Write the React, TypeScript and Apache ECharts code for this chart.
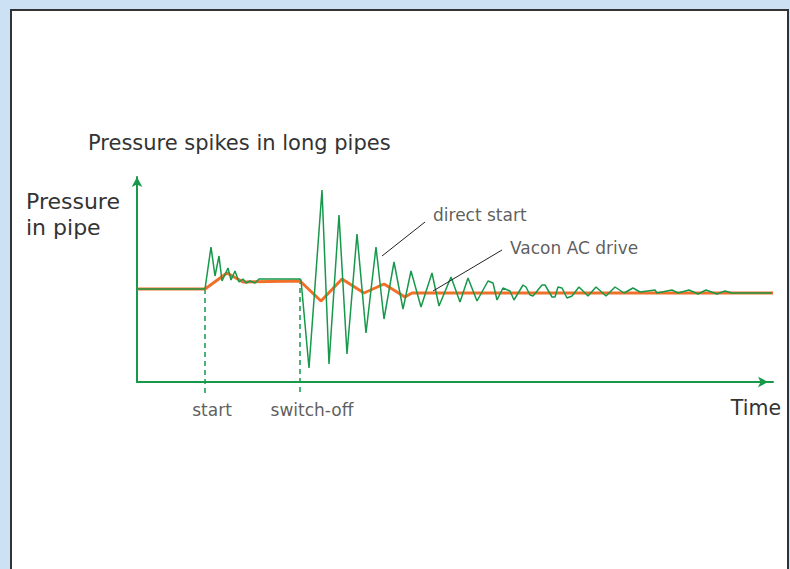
import React, { useEffect, useRef } from "react";
import * as echarts from "echarts";

// Time (x) and pressure (y) readings of the two curves
const directStart: [number, number][] = [
  [0, 93], [68, 93], [74, 135], [78, 106], [82, 126], [85, 101], [91, 114], [94, 102],
  [98, 111], [102, 100], [106, 103], [109, 99], [113, 101], [118, 99], [122, 103],
  [163, 103], [164, 102], [172, 14], [185, 192], [192, 18], [202, 167], [210, 28],
  [220, 148], [229, 49], [239, 135], [247, 63], [257, 120], [266, 73], [274, 111],
  [284, 75], [295, 109], [302, 76], [314, 105], [323, 80], [331, 104], [340, 81],
  [351, 101], [356, 99], [360, 82], [366, 94], [373, 91], [377, 82], [386, 97],
  [389, 95], [393, 87], [396, 86], [405, 97], [408, 97], [415, 85], [418, 85],
  [421, 95], [425, 94], [430, 84], [435, 86], [442, 95], [451, 86], [459, 95],
  [469, 86], [478, 95], [487, 89], [496, 94], [503, 90], [518, 92], [520, 89],
  [535, 92], [541, 89], [552, 92], [561, 88], [569, 92], [580, 88], [588, 91],
  [595, 89], [635, 89],
];
const vaconDrive: [number, number][] = [
  [0, 93], [68, 93], [90, 109], [106, 100], [163, 101], [184, 81], [205, 103],
  [227, 89], [247, 98], [268, 85], [275, 89], [636, 89],
];

const eventTimes = [68, 163];
const eventTops = [93, 103];
const eventLabels = ["start", "switch-off"];
const eventLabelX = [75, 175];

const annotationLabels = ["direct start", "Vacon AC drive"];
const annotationText: [number, number][] = [[296, 167], [373, 134]];
const annotationLines: [number, number][][] = [
  [[245, 126], [288, 160]],
  [[296, 91], [365, 132]],
];

const titleText = "Pressure spikes in long pipes";
const yName = "Pressure\nin pipe";
const xName = "Time";

const GREEN = "#17984a";
const ORANGE = "#f0702a";
const TEXT = "#333333";
const FONT = "DejaVu Sans";

export default function App() {
  const ref = useRef<HTMLDivElement>(null);
  useEffect(() => {
    if (!ref.current) return;
    const chart = echarts.init(ref.current, null, { renderer: "svg" });
    const series: any[] = [];
    series.push({
      type: "line",
      data: vaconDrive,
      symbol: "none",
      lineStyle: { color: ORANGE, width: 3 },
      z: 3,
      silent: true,
    });
    series.push({
      type: "line",
      data: directStart,
      symbol: "none",
      lineStyle: { color: GREEN, width: 1.5 },
      z: 4,
      silent: true,
    });
    eventTimes.forEach((t, i) => {
      series.push({
        type: "line",
        data: [[t, eventTops[i]], [t, -14]],
        symbol: "none",
        clip: false,
        lineStyle: { color: GREEN, width: 1.5, type: [5, 4] },
        z: 2,
        silent: true,
      });
    });
    series.push({
      type: "scatter",
      data: eventTimes.map((_, i) => [eventLabelX[i], -28, eventLabels[i]]),
      symbolSize: 0,
      clip: false,
      silent: true,
      label: {
        show: true,
        position: "inside",
        formatter: (p: any) => p.value[2],
        color: TEXT,
        fontFamily: FONT,
        fontSize: 17,
      },
    });
    annotationLines.forEach((seg) => {
      series.push({
        type: "line",
        data: seg,
        symbol: "none",
        clip: false,
        lineStyle: { color: "#222222", width: 1 },
        z: 5,
        silent: true,
      });
    });
    series.push({
      type: "scatter",
      data: annotationText.map((p, i) => [p[0], p[1], annotationLabels[i]]),
      symbolSize: 0,
      clip: false,
      silent: true,
      label: {
        show: true,
        position: "right",
        distance: 0,
        formatter: (p: any) => p.value[2],
        color: TEXT,
        fontFamily: FONT,
        fontSize: 17,
      },
    });

    chart.setOption({
      animation: false,
      backgroundColor: "#cce1f4",
      title: {
        text: titleText,
        left: 88,
        top: 132,
        padding: 0,
        textStyle: { color: TEXT, fontFamily: FONT, fontSize: 21, fontWeight: "normal" },
      },
      grid: { left: 137, top: 177, width: 636, height: 205 },
      xAxis: {
        type: "value",
        min: 0,
        max: 636,
        axisLine: {
          show: true,
          symbol: ["none", "arrow"],
          symbolSize: [8, 10],
          symbolOffset: [0, -5],
          lineStyle: { color: GREEN, width: 2 },
        },
        axisTick: { show: false },
        axisLabel: { show: false },
        splitLine: { show: false },
      },
      yAxis: {
        type: "value",
        min: 0,
        max: 205,
        axisLine: {
          show: true,
          symbol: ["none", "arrow"],
          symbolSize: [8, 10],
          lineStyle: { color: GREEN, width: 2 },
        },
        axisTick: { show: false },
        axisLabel: { show: false },
        splitLine: { show: false },
      },
      graphic: [
        {
          type: "rect",
          shape: { x: 11, y: 10, width: 777, height: 620 },
          style: { fill: "#ffffff", stroke: "#333333", lineWidth: 2 },
          z: -10,
          silent: true,
        },
        {
          type: "text",
          left: 26,
          top: 188,
          style: {
            text: yName,
            fill: TEXT,
            font: `22px ${FONT}`,
            lineHeight: 26,
          },
          silent: true,
        },
        {
          type: "text",
          right: 9,
          top: 397,
          style: {
            text: xName,
            fill: TEXT,
            font: `20.5px ${FONT}`,
          },
          silent: true,
        },
      ],
      series,
    });
    return () => chart.dispose();
  }, []);
  return (
    <div
      ref={ref}
      style={{ position: "fixed", left: 0, top: 0, width: 790, height: 569 }}
    />
  );
}
